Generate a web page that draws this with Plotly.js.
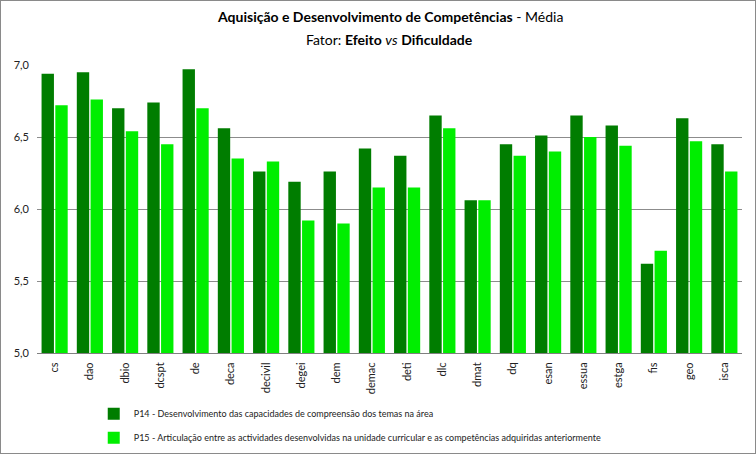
<!DOCTYPE html>
<html>
<head>
<meta charset="utf-8">
<script src="https://cdn.plot.ly/plotly-3.0.1.min.js"></script>
<style>
html,body{margin:0;padding:0;background:#fff;}
#chart{width:754px;height:452px;border:1px solid #8a8a8a;}
</style>
</head>
<body>
<div id="chart"></div>
<script>
const categories = ["cs","dao","dbio","dcspt","de","deca","decivil","degei","dem","demac","deti","dlc","dmat","dq","esan","essua","estga","fis","geo","isca"];
const p14Values = [6.94,6.95,6.70,6.74,6.97,6.56,6.26,6.19,6.26,6.42,6.37,6.65,6.06,6.45,6.51,6.65,6.58,5.62,6.63,6.45];
const p15Values = [6.72,6.76,6.54,6.45,6.70,6.35,6.33,5.92,5.90,6.15,6.15,6.56,6.06,6.37,6.40,6.50,6.44,5.71,6.47,6.26];
const p14Name = "P14 - Desenvolvimento das capacidades de compreensão dos temas na área";
const p15Name = "P15 - Articulação entre as actividades desenvolvidas na unidade curricular e as competências adquiridas anteriormente";
const yTicks = [5.0,5.5,6.0,6.5,7.0];
const yTickLabels = ["5,0","5,5","6,0","6,5","7,0"];
const titleLine1 = "<b>Aquisição e Desenvolvimento de Competências</b> - Média";
const titleLine2 = "Fator: <b>Efeito</b> <i>vs</i> <b>Dificuldade</b>";

const font = "Lato, 'Open Sans', 'DejaVu Sans', sans-serif";

const data = [
  {type:"bar", x:categories, y:p14Values, name:p14Name, marker:{color:"#007d00"}, base:0, legendgroup:"a"},
  {type:"bar", x:categories, y:p15Values, name:p15Name, marker:{color:"#00ee00"}, base:0, legendgroup:"b"}
];

const layout = {
  width:754, height:452,
  margin:{l:36, r:13, t:64, b:100, autoexpand:false},
  paper_bgcolor:"#fff", plot_bgcolor:"#fff",
  font:{family:font, size:11, color:"#222"},
  annotations:[
    {text:titleLine1, xref:"paper", yref:"paper", x:0.5, y:1 + 48/288, xanchor:"center", yanchor:"middle", showarrow:false, font:{family:font, size:14, color:"#000"}},
    {text:titleLine2, xref:"paper", yref:"paper", x:0.5, y:1 + 26/288, xanchor:"center", yanchor:"middle", showarrow:false, font:{family:font, size:14, color:"#000"}}
  ],
  barmode:"group", bargap:0.22, bargroupgap:0.1,
  xaxis:{
    type:"category", tickangle:-90, showgrid:false,
    showline:true, linecolor:"#808080", linewidth:1,
    ticks:"", ticklabelstandoff:4, tickfont:{family:font, size:11, color:"#222"}
  },
  yaxis:{
    range:[5,7], tickvals:yTicks, ticktext:yTickLabels,
    showgrid:true, gridcolor:"#8c8c8c", gridwidth:1,
    zeroline:false, showline:false, ticks:"", ticklabelstandoff:7,
    tickfont:{family:font, size:11, color:"#222"}
  },
  showlegend:true,
  legend:{
    orientation:"v", xref:"container", yref:"container",
    x:0.123, xanchor:"left", y:0.119, yanchor:"top",
    font:{family:font, size:9, color:"#222"},
    itemwidth:30, traceorder:"grouped", tracegroupgap:5
  }
};

Plotly.newPlot("chart", data, layout, {displayModeBar:false, staticPlot:true});
</script>
</body>
</html>
